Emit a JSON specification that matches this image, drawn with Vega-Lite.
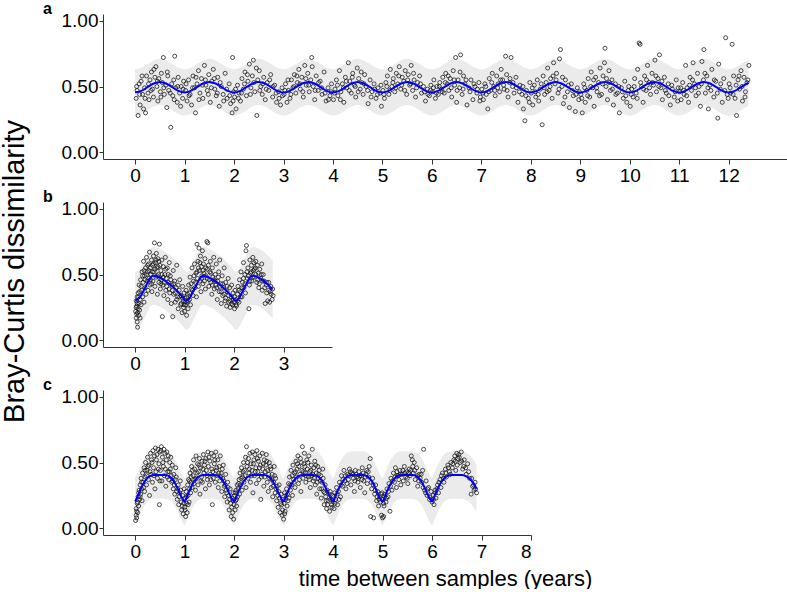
{
"$schema": "https://vega.github.io/schema/vega-lite/v6.json",
"background": "white",
"padding": 0,
"spacing": 43,
"bounds": "flush",
"config": {
 "view": {"stroke": null},
 "font": "Liberation Sans",
 "axis": {"grid": false, "domainColor": "#333333", "tickColor": "#333333", "labelColor": "#000000", "labelFontSize": 19, "labelFont": "Liberation Sans", "titleFont": "Liberation Sans", "titleColor": "#000000", "titleFontWeight": "normal", "domainWidth": 1, "tickWidth": 1},
 "axisX": {"tickSize": 5, "labelPadding": 2},
 "axisY": {"tickSize": 4, "labelPadding": 1}
},
"vconcat": [
 {
  "width": 685, "height": 145,
  "title": {"text": "a", "anchor": "start", "frame": "group", "dx": -60, "dy": 12, "fontSize": 16, "fontWeight": "bold", "baseline": "alphabetic", "offset": -6, "color": "#000000", "font": "Liberation Sans"},
  "layer": [
   {"data": {"name": "la"}, "mark": {"type": "area", "color": "#EBEBEB", "interpolate": "monotone"},
    "encoding": {
     "x": {"field": "x", "type": "quantitative", "scale": {"domain": [-0.65, 13.2], "nice": false, "zero": false}, "axis": {"values": [0,1,2,3,4,5,6,7,8,9,10,11,12], "title": null}},
     "y": {"field": "lo", "type": "quantitative", "scale": {"domain": [-0.05, 1.05], "nice": false, "zero": false}, "axis": {"values": [0,0.25,0.5,0.75,1], "format": ".2f", "title": "Bray-Curtis dissimilarity", "titleFontSize": 29, "titleAngle": 270, "titleAlign": "center", "titleBaseline": "alphabetic", "titleX": -80, "titleY": 257}},
     "y2": {"field": "hi"}}},
   {"data": {"name": "a"}, "mark": {"type": "point", "filled": false, "size": 16, "stroke": "#111111", "strokeWidth": 0.75, "opacity": 1},
    "encoding": {"x": {"field": "x", "type": "quantitative"}, "y": {"field": "y", "type": "quantitative"}}},
   {"data": {"name": "la"}, "mark": {"type": "line", "color": "#0000FF", "strokeWidth": 2, "interpolate": "monotone"},
    "encoding": {"x": {"field": "x", "type": "quantitative"}, "y": {"field": "f", "type": "quantitative"}}}
  ]
 },
 {
  "width": 229, "height": 145,
  "title": {"text": "b", "anchor": "start", "frame": "group", "dx": -60, "dy": 12, "fontSize": 16, "fontWeight": "bold", "baseline": "alphabetic", "offset": -6, "color": "#000000", "font": "Liberation Sans"},
  "layer": [
   {"data": {"name": "lb"}, "mark": {"type": "area", "color": "#EBEBEB", "interpolate": "monotone"},
    "encoding": {
     "x": {"field": "x", "type": "quantitative", "scale": {"domain": [-0.65, 3.98], "nice": false, "zero": false}, "axis": {"values": [0,1,2,3], "title": null}},
     "y": {"field": "lo", "type": "quantitative", "scale": {"domain": [-0.05, 1.05], "nice": false, "zero": false}, "axis": {"values": [0,0.25,0.5,0.75,1], "format": ".2f", "title": null}},
     "y2": {"field": "hi"}}},
   {"data": {"name": "b"}, "mark": {"type": "point", "filled": false, "size": 16, "stroke": "#111111", "strokeWidth": 0.75, "opacity": 1},
    "encoding": {"x": {"field": "x", "type": "quantitative"}, "y": {"field": "y", "type": "quantitative"}}},
   {"data": {"name": "lb"}, "mark": {"type": "line", "color": "#0000FF", "strokeWidth": 2, "interpolate": "monotone"},
    "encoding": {"x": {"field": "x", "type": "quantitative"}, "y": {"field": "f", "type": "quantitative"}}}
  ]
 },
 {
  "width": 428, "height": 145,
  "title": {"text": "c", "anchor": "start", "frame": "group", "dx": -60, "dy": 12, "fontSize": 16, "fontWeight": "bold", "baseline": "alphabetic", "offset": -6, "color": "#000000", "font": "Liberation Sans"},
  "layer": [
   {"data": {"name": "lc"}, "mark": {"type": "area", "color": "#EBEBEB", "interpolate": "monotone"},
    "encoding": {
     "x": {"field": "x", "type": "quantitative", "scale": {"domain": [-0.65, 8.0], "nice": false, "zero": false}, "axis": {"values": [0,1,2,3,4,5,6,7,8], "title": "time between samples (years)", "titleFontSize": 22, "titleX": 342, "titlePadding": 7}},
     "y": {"field": "lo", "type": "quantitative", "scale": {"domain": [-0.05, 1.05], "nice": false, "zero": false}, "axis": {"values": [0,0.25,0.5,0.75,1], "format": ".2f", "title": null}},
     "y2": {"field": "hi"}}},
   {"data": {"name": "c"}, "mark": {"type": "point", "filled": false, "size": 16, "stroke": "#111111", "strokeWidth": 0.75, "opacity": 1},
    "encoding": {"x": {"field": "x", "type": "quantitative"}, "y": {"field": "y", "type": "quantitative"}}},
   {"data": {"name": "lc"}, "mark": {"type": "line", "color": "#0000FF", "strokeWidth": 2, "interpolate": "monotone"},
    "encoding": {"x": {"field": "x", "type": "quantitative"}, "y": {"field": "f", "type": "quantitative"}}}
  ]
 }
],
"datasets": {
 "la": [
  {"x":0,"f":0.455,"lo":0.28,"hi":0.63},{"x":0.125,"f":0.467,"lo":0.292,"hi":0.642},{"x":0.25,"f":0.495,"lo":0.32,"hi":0.67},{"x":0.375,"f":0.523,"lo":0.348,"hi":0.698},{"x":0.5,"f":0.535,"lo":0.36,"hi":0.71},{"x":0.625,"f":0.523,"lo":0.348,"hi":0.698},{"x":0.75,"f":0.495,"lo":0.32,"hi":0.67},{"x":0.875,"f":0.467,"lo":0.292,"hi":0.642},
  {"x":1,"f":0.455,"lo":0.28,"hi":0.63},{"x":1.125,"f":0.467,"lo":0.292,"hi":0.642},{"x":1.25,"f":0.495,"lo":0.32,"hi":0.67},{"x":1.375,"f":0.523,"lo":0.348,"hi":0.698},{"x":1.5,"f":0.535,"lo":0.36,"hi":0.71},{"x":1.625,"f":0.523,"lo":0.348,"hi":0.698},{"x":1.75,"f":0.495,"lo":0.32,"hi":0.67},{"x":1.875,"f":0.467,"lo":0.292,"hi":0.642},
  {"x":2,"f":0.455,"lo":0.28,"hi":0.63},{"x":2.125,"f":0.467,"lo":0.292,"hi":0.642},{"x":2.25,"f":0.495,"lo":0.32,"hi":0.67},{"x":2.375,"f":0.523,"lo":0.348,"hi":0.698},{"x":2.5,"f":0.535,"lo":0.36,"hi":0.71},{"x":2.625,"f":0.523,"lo":0.348,"hi":0.698},{"x":2.75,"f":0.495,"lo":0.32,"hi":0.67},{"x":2.875,"f":0.467,"lo":0.292,"hi":0.642},
  {"x":3,"f":0.455,"lo":0.28,"hi":0.63},{"x":3.125,"f":0.467,"lo":0.292,"hi":0.642},{"x":3.25,"f":0.495,"lo":0.32,"hi":0.67},{"x":3.375,"f":0.523,"lo":0.348,"hi":0.698},{"x":3.5,"f":0.535,"lo":0.36,"hi":0.71},{"x":3.625,"f":0.523,"lo":0.348,"hi":0.698},{"x":3.75,"f":0.495,"lo":0.32,"hi":0.67},{"x":3.875,"f":0.467,"lo":0.292,"hi":0.642},
  {"x":4,"f":0.455,"lo":0.28,"hi":0.63},{"x":4.125,"f":0.467,"lo":0.292,"hi":0.642},{"x":4.25,"f":0.495,"lo":0.32,"hi":0.67},{"x":4.375,"f":0.523,"lo":0.348,"hi":0.698},{"x":4.5,"f":0.535,"lo":0.36,"hi":0.71},{"x":4.625,"f":0.523,"lo":0.348,"hi":0.698},{"x":4.75,"f":0.495,"lo":0.32,"hi":0.67},{"x":4.875,"f":0.467,"lo":0.292,"hi":0.642},
  {"x":5,"f":0.455,"lo":0.28,"hi":0.63},{"x":5.125,"f":0.467,"lo":0.292,"hi":0.642},{"x":5.25,"f":0.495,"lo":0.32,"hi":0.67},{"x":5.375,"f":0.523,"lo":0.348,"hi":0.698},{"x":5.5,"f":0.535,"lo":0.36,"hi":0.71},{"x":5.625,"f":0.523,"lo":0.348,"hi":0.698},{"x":5.75,"f":0.495,"lo":0.32,"hi":0.67},{"x":5.875,"f":0.467,"lo":0.292,"hi":0.642},
  {"x":6,"f":0.455,"lo":0.28,"hi":0.63},{"x":6.125,"f":0.467,"lo":0.292,"hi":0.642},{"x":6.25,"f":0.495,"lo":0.32,"hi":0.67},{"x":6.375,"f":0.523,"lo":0.348,"hi":0.698},{"x":6.5,"f":0.535,"lo":0.36,"hi":0.71},{"x":6.625,"f":0.523,"lo":0.348,"hi":0.698},{"x":6.75,"f":0.495,"lo":0.32,"hi":0.67},{"x":6.875,"f":0.467,"lo":0.292,"hi":0.642},
  {"x":7,"f":0.455,"lo":0.28,"hi":0.63},{"x":7.125,"f":0.467,"lo":0.292,"hi":0.642},{"x":7.25,"f":0.495,"lo":0.32,"hi":0.67},{"x":7.375,"f":0.523,"lo":0.348,"hi":0.698},{"x":7.5,"f":0.535,"lo":0.36,"hi":0.71},{"x":7.625,"f":0.523,"lo":0.348,"hi":0.698},{"x":7.75,"f":0.495,"lo":0.32,"hi":0.67},{"x":7.875,"f":0.467,"lo":0.292,"hi":0.642},
  {"x":8,"f":0.455,"lo":0.28,"hi":0.63},{"x":8.125,"f":0.467,"lo":0.292,"hi":0.642},{"x":8.25,"f":0.495,"lo":0.32,"hi":0.67},{"x":8.375,"f":0.523,"lo":0.348,"hi":0.698},{"x":8.5,"f":0.535,"lo":0.36,"hi":0.71},{"x":8.625,"f":0.523,"lo":0.348,"hi":0.698},{"x":8.75,"f":0.495,"lo":0.32,"hi":0.67},{"x":8.875,"f":0.467,"lo":0.292,"hi":0.642},
  {"x":9,"f":0.455,"lo":0.28,"hi":0.63},{"x":9.125,"f":0.467,"lo":0.292,"hi":0.642},{"x":9.25,"f":0.495,"lo":0.32,"hi":0.67},{"x":9.375,"f":0.523,"lo":0.348,"hi":0.698},{"x":9.5,"f":0.535,"lo":0.36,"hi":0.71},{"x":9.625,"f":0.523,"lo":0.348,"hi":0.698},{"x":9.75,"f":0.495,"lo":0.32,"hi":0.67},{"x":9.875,"f":0.467,"lo":0.292,"hi":0.642},
  {"x":10,"f":0.455,"lo":0.28,"hi":0.63},{"x":10.125,"f":0.467,"lo":0.292,"hi":0.642},{"x":10.25,"f":0.495,"lo":0.32,"hi":0.67},{"x":10.375,"f":0.523,"lo":0.348,"hi":0.698},{"x":10.5,"f":0.535,"lo":0.36,"hi":0.71},{"x":10.625,"f":0.523,"lo":0.348,"hi":0.698},{"x":10.75,"f":0.495,"lo":0.32,"hi":0.67},{"x":10.875,"f":0.467,"lo":0.292,"hi":0.642},
  {"x":11,"f":0.455,"lo":0.28,"hi":0.63},{"x":11.125,"f":0.467,"lo":0.292,"hi":0.642},{"x":11.25,"f":0.495,"lo":0.32,"hi":0.67},{"x":11.375,"f":0.523,"lo":0.348,"hi":0.698},{"x":11.5,"f":0.535,"lo":0.36,"hi":0.71},{"x":11.625,"f":0.523,"lo":0.348,"hi":0.698},{"x":11.75,"f":0.495,"lo":0.32,"hi":0.67},{"x":11.875,"f":0.467,"lo":0.292,"hi":0.642},
  {"x":12,"f":0.455,"lo":0.28,"hi":0.63},{"x":12.125,"f":0.467,"lo":0.292,"hi":0.642},{"x":12.25,"f":0.495,"lo":0.32,"hi":0.67},{"x":12.375,"f":0.523,"lo":0.348,"hi":0.698},{"x":12.4,"f":0.527,"lo":0.352,"hi":0.702}
 ],
 "lb": [
  {"x":0,"f":0.30,"lo":0.08,"hi":0.52},{"x":0.1,"f":0.33,"lo":0.11,"hi":0.55},{"x":0.19,"f":0.39,"lo":0.17,"hi":0.61},{"x":0.28,"f":0.46,"lo":0.24,"hi":0.68},{"x":0.36,"f":0.49,"lo":0.27,"hi":0.71},{"x":0.45,"f":0.485,"lo":0.265,"hi":0.705},{"x":0.55,"f":0.465,"lo":0.245,"hi":0.685},{"x":0.65,"f":0.44,"lo":0.22,"hi":0.66},{"x":0.75,"f":0.41,"lo":0.19,"hi":0.63},{"x":0.85,"f":0.375,"lo":0.155,"hi":0.595},{"x":0.95,"f":0.335,"lo":0.115,"hi":0.555},
  {"x":1.03,"f":0.30,"lo":0.08,"hi":0.52},{"x":1.1,"f":0.32,"lo":0.10,"hi":0.54},{"x":1.17,"f":0.37,"lo":0.15,"hi":0.59},{"x":1.25,"f":0.43,"lo":0.21,"hi":0.65},{"x":1.3,"f":0.465,"lo":0.245,"hi":0.685},{"x":1.37,"f":0.49,"lo":0.27,"hi":0.71},{"x":1.45,"f":0.485,"lo":0.265,"hi":0.705},{"x":1.55,"f":0.465,"lo":0.245,"hi":0.685},{"x":1.65,"f":0.44,"lo":0.22,"hi":0.66},{"x":1.75,"f":0.41,"lo":0.19,"hi":0.63},{"x":1.85,"f":0.375,"lo":0.155,"hi":0.595},{"x":1.95,"f":0.335,"lo":0.115,"hi":0.555},
  {"x":2.03,"f":0.30,"lo":0.08,"hi":0.52},{"x":2.1,"f":0.32,"lo":0.10,"hi":0.54},{"x":2.17,"f":0.37,"lo":0.15,"hi":0.59},{"x":2.25,"f":0.43,"lo":0.21,"hi":0.65},{"x":2.3,"f":0.465,"lo":0.245,"hi":0.685},{"x":2.37,"f":0.49,"lo":0.27,"hi":0.71},{"x":2.45,"f":0.485,"lo":0.265,"hi":0.705},{"x":2.55,"f":0.465,"lo":0.245,"hi":0.685},{"x":2.65,"f":0.435,"lo":0.215,"hi":0.655},{"x":2.78,"f":0.385,"lo":0.165,"hi":0.605}
 ],
 "lc": [
  {"x":0,"f":0.205,"lo":0.025,"hi":0.385},{"x":0.05,"f":0.245,"lo":0.065,"hi":0.425},{"x":0.1,"f":0.29,"lo":0.11,"hi":0.47},{"x":0.2,"f":0.36,"lo":0.18,"hi":0.54},{"x":0.3,"f":0.397,"lo":0.217,"hi":0.577},{"x":0.4,"f":0.405,"lo":0.225,"hi":0.585},{"x":0.5,"f":0.405,"lo":0.225,"hi":0.585},{"x":0.6,"f":0.405,"lo":0.225,"hi":0.585},{"x":0.7,"f":0.393,"lo":0.213,"hi":0.573},{"x":0.8,"f":0.347,"lo":0.167,"hi":0.527},{"x":0.9,"f":0.268,"lo":0.088,"hi":0.448},{"x":0.95,"f":0.228,"lo":0.048,"hi":0.408},
  {"x":1,"f":0.205,"lo":0.025,"hi":0.385},{"x":1.05,"f":0.245,"lo":0.065,"hi":0.425},{"x":1.1,"f":0.29,"lo":0.11,"hi":0.47},{"x":1.2,"f":0.36,"lo":0.18,"hi":0.54},{"x":1.3,"f":0.397,"lo":0.217,"hi":0.577},{"x":1.4,"f":0.405,"lo":0.225,"hi":0.585},{"x":1.5,"f":0.405,"lo":0.225,"hi":0.585},{"x":1.6,"f":0.405,"lo":0.225,"hi":0.585},{"x":1.7,"f":0.393,"lo":0.213,"hi":0.573},{"x":1.8,"f":0.347,"lo":0.167,"hi":0.527},{"x":1.9,"f":0.268,"lo":0.088,"hi":0.448},{"x":1.95,"f":0.228,"lo":0.048,"hi":0.408},
  {"x":2,"f":0.205,"lo":0.025,"hi":0.385},{"x":2.05,"f":0.245,"lo":0.065,"hi":0.425},{"x":2.1,"f":0.29,"lo":0.11,"hi":0.47},{"x":2.2,"f":0.36,"lo":0.18,"hi":0.54},{"x":2.3,"f":0.397,"lo":0.217,"hi":0.577},{"x":2.4,"f":0.405,"lo":0.225,"hi":0.585},{"x":2.5,"f":0.405,"lo":0.225,"hi":0.585},{"x":2.6,"f":0.405,"lo":0.225,"hi":0.585},{"x":2.7,"f":0.393,"lo":0.213,"hi":0.573},{"x":2.8,"f":0.347,"lo":0.167,"hi":0.527},{"x":2.9,"f":0.268,"lo":0.088,"hi":0.448},{"x":2.95,"f":0.228,"lo":0.048,"hi":0.408},
  {"x":3,"f":0.205,"lo":0.025,"hi":0.385},{"x":3.05,"f":0.245,"lo":0.065,"hi":0.425},{"x":3.1,"f":0.29,"lo":0.11,"hi":0.47},{"x":3.2,"f":0.36,"lo":0.18,"hi":0.54},{"x":3.3,"f":0.397,"lo":0.217,"hi":0.577},{"x":3.4,"f":0.405,"lo":0.225,"hi":0.585},{"x":3.5,"f":0.405,"lo":0.225,"hi":0.585},{"x":3.6,"f":0.405,"lo":0.225,"hi":0.585},{"x":3.7,"f":0.393,"lo":0.213,"hi":0.573},{"x":3.8,"f":0.347,"lo":0.167,"hi":0.527},{"x":3.9,"f":0.268,"lo":0.088,"hi":0.448},{"x":3.95,"f":0.228,"lo":0.048,"hi":0.408},
  {"x":4,"f":0.205,"lo":0.025,"hi":0.385},{"x":4.05,"f":0.245,"lo":0.065,"hi":0.425},{"x":4.1,"f":0.29,"lo":0.11,"hi":0.47},{"x":4.2,"f":0.36,"lo":0.18,"hi":0.54},{"x":4.3,"f":0.397,"lo":0.217,"hi":0.577},{"x":4.4,"f":0.405,"lo":0.225,"hi":0.585},{"x":4.5,"f":0.405,"lo":0.225,"hi":0.585},{"x":4.6,"f":0.405,"lo":0.225,"hi":0.585},{"x":4.7,"f":0.393,"lo":0.213,"hi":0.573},{"x":4.8,"f":0.347,"lo":0.167,"hi":0.527},{"x":4.9,"f":0.268,"lo":0.088,"hi":0.448},{"x":4.95,"f":0.228,"lo":0.048,"hi":0.408},
  {"x":5,"f":0.205,"lo":0.025,"hi":0.385},{"x":5.05,"f":0.245,"lo":0.065,"hi":0.425},{"x":5.1,"f":0.29,"lo":0.11,"hi":0.47},{"x":5.2,"f":0.36,"lo":0.18,"hi":0.54},{"x":5.3,"f":0.397,"lo":0.217,"hi":0.577},{"x":5.4,"f":0.405,"lo":0.225,"hi":0.585},{"x":5.5,"f":0.405,"lo":0.225,"hi":0.585},{"x":5.6,"f":0.405,"lo":0.225,"hi":0.585},{"x":5.7,"f":0.393,"lo":0.213,"hi":0.573},{"x":5.8,"f":0.347,"lo":0.167,"hi":0.527},{"x":5.9,"f":0.268,"lo":0.088,"hi":0.448},{"x":5.95,"f":0.228,"lo":0.048,"hi":0.408},
  {"x":6,"f":0.205,"lo":0.025,"hi":0.385},{"x":6.05,"f":0.245,"lo":0.065,"hi":0.425},{"x":6.1,"f":0.29,"lo":0.11,"hi":0.47},{"x":6.2,"f":0.36,"lo":0.18,"hi":0.54},{"x":6.3,"f":0.397,"lo":0.217,"hi":0.577},{"x":6.4,"f":0.405,"lo":0.225,"hi":0.585},{"x":6.5,"f":0.405,"lo":0.225,"hi":0.585},{"x":6.6,"f":0.405,"lo":0.225,"hi":0.585},{"x":6.7,"f":0.393,"lo":0.213,"hi":0.573},{"x":6.8,"f":0.36,"lo":0.18,"hi":0.54},{"x":6.9,"f":0.30,"lo":0.12,"hi":0.48}
 ],
 "a": [
  {"x":0.02,"y":0.41},{"x":0.04,"y":0.47},{"x":0.06,"y":0.28},{"x":0.08,"y":0.52},{"x":0.10,"y":0.36},{"x":0.12,"y":0.54},{"x":0.15,"y":0.44},{"x":0.17,"y":0.33},{"x":0.19,"y":0.49},{"x":0.21,"y":0.30},{"x":0.23,"y":0.58},{"x":0.26,"y":0.45},{"x":0.28,"y":0.40},{"x":0.30,"y":0.55},{"x":0.33,"y":0.61},{"x":0.35,"y":0.48},{"x":0.37,"y":0.42},{"x":0.40,"y":0.57},{"x":0.42,"y":0.65},{"x":0.44,"y":0.50},{"x":0.46,"y":0.39},{"x":0.48,"y":0.56},{"x":0.51,"y":0.46},{"x":0.53,"y":0.60},{"x":0.55,"y":0.53},{"x":0.57,"y":0.72},{"x":0.59,"y":0.44},{"x":0.62,"y":0.51},{"x":0.64,"y":0.34},{"x":0.66,"y":0.58},{"x":0.68,"y":0.47},{"x":0.72,"y":0.19},{"x":0.74,"y":0.52},{"x":0.76,"y":0.43},{"x":0.78,"y":0.55},{"x":0.80,"y":0.73},{"x":0.82,"y":0.49},{"x":0.85,"y":0.38},{"x":0.87,"y":0.57},{"x":0.90,"y":0.45},{"x":0.93,"y":0.50},{"x":0.96,"y":0.41},{"x":0.98,"y":0.54},
  {"x":1.02,"y":0.47},{"x":1.05,"y":0.39},{"x":1.08,"y":0.55},{"x":1.11,"y":0.44},{"x":1.14,"y":0.36},{"x":1.17,"y":0.58},{"x":1.20,"y":0.49},{"x":1.22,"y":0.30},{"x":1.25,"y":0.52},{"x":1.28,"y":0.62},{"x":1.31,"y":0.45},{"x":1.34,"y":0.56},{"x":1.37,"y":0.41},{"x":1.40,"y":0.66},{"x":1.43,"y":0.51},{"x":1.46,"y":0.47},{"x":1.49,"y":0.59},{"x":1.52,"y":0.38},{"x":1.55,"y":0.54},{"x":1.58,"y":0.63},{"x":1.61,"y":0.48},{"x":1.64,"y":0.43},{"x":1.67,"y":0.57},{"x":1.70,"y":0.35},{"x":1.74,"y":0.50},{"x":1.78,"y":0.44},{"x":1.82,"y":0.60},{"x":1.86,"y":0.41},{"x":1.90,"y":0.52},{"x":1.93,"y":0.37},{"x":1.96,"y":0.30},{"x":1.97,"y":0.72},{"x":1.99,"y":0.46},
  {"x":2.01,"y":0.42},{"x":2.04,"y":0.33},{"x":2.07,"y":0.51},{"x":2.10,"y":0.45},{"x":2.13,"y":0.39},{"x":2.16,"y":0.56},{"x":2.19,"y":0.48},{"x":2.22,"y":0.61},{"x":2.25,"y":0.43},{"x":2.28,"y":0.54},{"x":2.31,"y":0.67},{"x":2.34,"y":0.49},{"x":2.37,"y":0.58},{"x":2.39,"y":0.70},{"x":2.42,"y":0.46},{"x":2.46,"y":0.28},{"x":2.48,"y":0.55},{"x":2.51,"y":0.62},{"x":2.54,"y":0.50},{"x":2.57,"y":0.44},{"x":2.60,"y":0.57},{"x":2.63,"y":0.40},{"x":2.67,"y":0.53},{"x":2.70,"y":0.47},{"x":2.74,"y":0.59},{"x":2.78,"y":0.42},{"x":2.82,"y":0.51},{"x":2.86,"y":0.38},{"x":2.90,"y":0.46},{"x":2.94,"y":0.36},{"x":2.97,"y":0.49},
  {"x":3.01,"y":0.44},{"x":3.04,"y":0.52},{"x":3.07,"y":0.38},{"x":3.10,"y":0.47},{"x":3.13,"y":0.41},{"x":3.16,"y":0.55},{"x":3.19,"y":0.49},{"x":3.22,"y":0.59},{"x":3.25,"y":0.45},{"x":3.28,"y":0.53},{"x":3.31,"y":0.63},{"x":3.34,"y":0.48},{"x":3.37,"y":0.57},{"x":3.40,"y":0.42},{"x":3.43,"y":0.66},{"x":3.46,"y":0.51},{"x":3.49,"y":0.60},{"x":3.52,"y":0.46},{"x":3.55,"y":0.55},{"x":3.57,"y":0.72},{"x":3.60,"y":0.50},{"x":3.63,"y":0.40},{"x":3.66,"y":0.58},{"x":3.70,"y":0.47},{"x":3.74,"y":0.54},{"x":3.78,"y":0.44},{"x":3.82,"y":0.61},{"x":3.86,"y":0.39},{"x":3.90,"y":0.49},{"x":3.94,"y":0.43},{"x":3.97,"y":0.52},
  {"x":4.01,"y":0.40},{"x":4.04,"y":0.48},{"x":4.07,"y":0.55},{"x":4.10,"y":0.43},{"x":4.13,"y":0.62},{"x":4.16,"y":0.46},{"x":4.19,"y":0.52},{"x":4.22,"y":0.38},{"x":4.25,"y":0.57},{"x":4.28,"y":0.49},{"x":4.31,"y":0.68},{"x":4.34,"y":0.54},{"x":4.37,"y":0.45},{"x":4.40,"y":0.60},{"x":4.43,"y":0.51},{"x":4.46,"y":0.42},{"x":4.49,"y":0.64},{"x":4.52,"y":0.56},{"x":4.55,"y":0.48},{"x":4.58,"y":0.53},{"x":4.61,"y":0.44},{"x":4.64,"y":0.59},{"x":4.67,"y":0.50},{"x":4.71,"y":0.37},{"x":4.75,"y":0.55},{"x":4.79,"y":0.46},{"x":4.83,"y":0.52},{"x":4.87,"y":0.41},{"x":4.91,"y":0.49},{"x":4.95,"y":0.45},{"x":4.98,"y":0.35},
  {"x":5.01,"y":0.47},{"x":5.04,"y":0.41},{"x":5.07,"y":0.53},{"x":5.10,"y":0.58},{"x":5.13,"y":0.44},{"x":5.16,"y":0.63},{"x":5.19,"y":0.50},{"x":5.22,"y":0.56},{"x":5.25,"y":0.46},{"x":5.28,"y":0.60},{"x":5.31,"y":0.52},{"x":5.34,"y":0.65},{"x":5.37,"y":0.48},{"x":5.40,"y":0.57},{"x":5.43,"y":0.54},{"x":5.46,"y":0.62},{"x":5.49,"y":0.44},{"x":5.52,"y":0.59},{"x":5.55,"y":0.51},{"x":5.58,"y":0.66},{"x":5.61,"y":0.47},{"x":5.64,"y":0.55},{"x":5.67,"y":0.42},{"x":5.71,"y":0.53},{"x":5.75,"y":0.58},{"x":5.79,"y":0.45},{"x":5.83,"y":0.50},{"x":5.87,"y":0.39},{"x":5.91,"y":0.48},{"x":5.95,"y":0.43},{"x":5.98,"y":0.51},
  {"x":6.01,"y":0.46},{"x":6.04,"y":0.55},{"x":6.07,"y":0.41},{"x":6.10,"y":0.50},{"x":6.13,"y":0.44},{"x":6.16,"y":0.53},{"x":6.19,"y":0.48},{"x":6.22,"y":0.57},{"x":6.25,"y":0.45},{"x":6.28,"y":0.60},{"x":6.31,"y":0.52},{"x":6.34,"y":0.47},{"x":6.37,"y":0.56},{"x":6.40,"y":0.42},{"x":6.43,"y":0.62},{"x":6.46,"y":0.51},{"x":6.48,"y":0.72},{"x":6.50,"y":0.38},{"x":6.53,"y":0.55},{"x":6.56,"y":0.49},{"x":6.58,"y":0.74},{"x":6.61,"y":0.44},{"x":6.64,"y":0.58},{"x":6.67,"y":0.52},{"x":6.71,"y":0.36},{"x":6.75,"y":0.49},{"x":6.79,"y":0.55},{"x":6.83,"y":0.40},{"x":6.87,"y":0.50},{"x":6.91,"y":0.45},{"x":6.95,"y":0.53},{"x":6.98,"y":0.42},
  {"x":7.01,"y":0.48},{"x":7.04,"y":0.40},{"x":7.07,"y":0.52},{"x":7.10,"y":0.44},{"x":7.13,"y":0.33},{"x":7.16,"y":0.56},{"x":7.19,"y":0.47},{"x":7.22,"y":0.60},{"x":7.25,"y":0.50},{"x":7.28,"y":0.43},{"x":7.31,"y":0.58},{"x":7.34,"y":0.52},{"x":7.37,"y":0.46},{"x":7.40,"y":0.63},{"x":7.43,"y":0.55},{"x":7.46,"y":0.48},{"x":7.49,"y":0.73},{"x":7.51,"y":0.59},{"x":7.54,"y":0.42},{"x":7.57,"y":0.53},{"x":7.60,"y":0.72},{"x":7.63,"y":0.50},{"x":7.66,"y":0.45},{"x":7.70,"y":0.57},{"x":7.74,"y":0.38},{"x":7.78,"y":0.51},{"x":7.82,"y":0.44},{"x":7.85,"y":0.33},{"x":7.88,"y":0.24},{"x":7.91,"y":0.47},{"x":7.95,"y":0.41},{"x":7.98,"y":0.53},
  {"x":8.01,"y":0.45},{"x":8.04,"y":0.36},{"x":8.07,"y":0.51},{"x":8.10,"y":0.42},{"x":8.13,"y":0.55},{"x":8.16,"y":0.39},{"x":8.19,"y":0.48},{"x":8.23,"y":0.21},{"x":8.25,"y":0.58},{"x":8.28,"y":0.44},{"x":8.31,"y":0.53},{"x":8.34,"y":0.64},{"x":8.37,"y":0.47},{"x":8.40,"y":0.56},{"x":8.43,"y":0.41},{"x":8.46,"y":0.68},{"x":8.49,"y":0.52},{"x":8.52,"y":0.60},{"x":8.55,"y":0.45},{"x":8.58,"y":0.71},{"x":8.60,"y":0.78},{"x":8.63,"y":0.50},{"x":8.66,"y":0.37},{"x":8.70,"y":0.55},{"x":8.74,"y":0.46},{"x":8.78,"y":0.34},{"x":8.82,"y":0.52},{"x":8.86,"y":0.43},{"x":8.90,"y":0.31},{"x":8.94,"y":0.49},{"x":8.97,"y":0.40},
  {"x":9.01,"y":0.44},{"x":9.04,"y":0.30},{"x":9.07,"y":0.52},{"x":9.10,"y":0.38},{"x":9.13,"y":0.47},{"x":9.16,"y":0.56},{"x":9.19,"y":0.42},{"x":9.22,"y":0.61},{"x":9.25,"y":0.49},{"x":9.28,"y":0.35},{"x":9.31,"y":0.57},{"x":9.34,"y":0.46},{"x":9.37,"y":0.53},{"x":9.40,"y":0.64},{"x":9.43,"y":0.44},{"x":9.46,"y":0.58},{"x":9.49,"y":0.68},{"x":9.50,"y":0.79},{"x":9.52,"y":0.50},{"x":9.55,"y":0.40},{"x":9.58,"y":0.62},{"x":9.61,"y":0.47},{"x":9.64,"y":0.55},{"x":9.67,"y":0.36},{"x":9.71,"y":0.52},{"x":9.75,"y":0.45},{"x":9.79,"y":0.30},{"x":9.83,"y":0.49},{"x":9.87,"y":0.41},{"x":9.90,"y":0.54},{"x":9.94,"y":0.38},{"x":9.97,"y":0.47},
  {"x":10.01,"y":0.35},{"x":10.04,"y":0.48},{"x":10.07,"y":0.42},{"x":10.10,"y":0.56},{"x":10.13,"y":0.45},{"x":10.16,"y":0.63},{"x":10.19,"y":0.83},{"x":10.21,"y":0.82},{"x":10.24,"y":0.50},{"x":10.27,"y":0.38},{"x":10.30,"y":0.58},{"x":10.33,"y":0.47},{"x":10.36,"y":0.66},{"x":10.39,"y":0.53},{"x":10.42,"y":0.44},{"x":10.45,"y":0.60},{"x":10.48,"y":0.51},{"x":10.51,"y":0.70},{"x":10.54,"y":0.46},{"x":10.57,"y":0.56},{"x":10.60,"y":0.74},{"x":10.63,"y":0.49},{"x":10.66,"y":0.40},{"x":10.70,"y":0.57},{"x":10.74,"y":0.45},{"x":10.78,"y":0.52},{"x":10.82,"y":0.36},{"x":10.86,"y":0.48},{"x":10.90,"y":0.42},{"x":10.94,"y":0.55},{"x":10.97,"y":0.39},
  {"x":11.01,"y":0.46},{"x":11.04,"y":0.40},{"x":11.07,"y":0.53},{"x":11.10,"y":0.44},{"x":11.13,"y":0.66},{"x":11.16,"y":0.49},{"x":11.19,"y":0.38},{"x":11.22,"y":0.57},{"x":11.25,"y":0.47},{"x":11.28,"y":0.68},{"x":11.31,"y":0.52},{"x":11.34,"y":0.43},{"x":11.37,"y":0.60},{"x":11.40,"y":0.50},{"x":11.43,"y":0.35},{"x":11.46,"y":0.69},{"x":11.49,"y":0.55},{"x":11.50,"y":0.78},{"x":11.53,"y":0.45},{"x":11.56,"y":0.58},{"x":11.59,"y":0.33},{"x":11.62,"y":0.51},{"x":11.66,"y":0.63},{"x":11.70,"y":0.42},{"x":11.74,"y":0.54},{"x":11.78,"y":0.26},{"x":11.80,"y":0.67},{"x":11.83,"y":0.48},{"x":11.87,"y":0.38},{"x":11.90,"y":0.56},{"x":11.94,"y":0.87},{"x":11.97,"y":0.44},
  {"x":12.01,"y":0.52},{"x":12.04,"y":0.45},{"x":12.07,"y":0.82},{"x":12.10,"y":0.58},{"x":12.13,"y":0.41},{"x":12.16,"y":0.28},{"x":12.19,"y":0.55},{"x":12.22,"y":0.48},{"x":12.25,"y":0.62},{"x":12.28,"y":0.39},{"x":12.31,"y":0.57},{"x":12.34,"y":0.46},{"x":12.37,"y":0.53},{"x":12.41,"y":0.66},
  {"x":0.03,"y":0.50},{"x":0.09,"y":0.44},{"x":0.14,"y":0.58},{"x":0.20,"y":0.41},{"x":0.27,"y":0.52},{"x":0.32,"y":0.47},{"x":0.38,"y":0.63},{"x":0.45,"y":0.54},{"x":0.52,"y":0.42},{"x":0.58,"y":0.49},{"x":0.65,"y":0.61},{"x":0.71,"y":0.45},{"x":0.79,"y":0.40},{"x":0.86,"y":0.50},{"x":0.92,"y":0.35},{"x":0.97,"y":0.48},
  {"x":1.03,"y":0.52},{"x":1.09,"y":0.43},{"x":1.16,"y":0.49},{"x":1.23,"y":0.57},{"x":1.29,"y":0.40},{"x":1.36,"y":0.51},{"x":1.42,"y":0.55},{"x":1.48,"y":0.44},{"x":1.54,"y":0.49},{"x":1.60,"y":0.56},{"x":1.66,"y":0.45},{"x":1.72,"y":0.53},{"x":1.79,"y":0.39},{"x":1.85,"y":0.48},{"x":1.91,"y":0.43},{"x":1.98,"y":0.39},
  {"x":2.03,"y":0.48},{"x":2.09,"y":0.41},{"x":2.15,"y":0.45},{"x":2.21,"y":0.52},{"x":2.27,"y":0.59},{"x":2.33,"y":0.44},{"x":2.40,"y":0.53},{"x":2.45,"y":0.64},{"x":2.52,"y":0.47},{"x":2.58,"y":0.52},{"x":2.65,"y":0.48},{"x":2.72,"y":0.55},{"x":2.79,"y":0.50},{"x":2.85,"y":0.45},{"x":2.91,"y":0.41},{"x":2.98,"y":0.43},
  {"x":3.03,"y":0.47},{"x":3.09,"y":0.55},{"x":3.15,"y":0.44},{"x":3.21,"y":0.50},{"x":3.27,"y":0.58},{"x":3.33,"y":0.52},{"x":3.39,"y":0.46},{"x":3.45,"y":0.56},{"x":3.51,"y":0.51},{"x":3.58,"y":0.65},{"x":3.64,"y":0.47},{"x":3.71,"y":0.53},{"x":3.77,"y":0.49},{"x":3.84,"y":0.45},{"x":3.91,"y":0.40},{"x":3.96,"y":0.46},
  {"x":4.03,"y":0.45},{"x":4.09,"y":0.51},{"x":4.15,"y":0.40},{"x":4.21,"y":0.49},{"x":4.27,"y":0.54},{"x":4.33,"y":0.47},{"x":4.39,"y":0.57},{"x":4.45,"y":0.50},{"x":4.51,"y":0.46},{"x":4.57,"y":0.61},{"x":4.63,"y":0.52},{"x":4.70,"y":0.47},{"x":4.77,"y":0.42},{"x":4.84,"y":0.48},{"x":4.90,"y":0.44},{"x":4.97,"y":0.51},
  {"x":5.03,"y":0.44},{"x":5.09,"y":0.50},{"x":5.15,"y":0.47},{"x":5.21,"y":0.53},{"x":5.27,"y":0.49},{"x":5.33,"y":0.58},{"x":5.39,"y":0.51},{"x":5.45,"y":0.47},{"x":5.51,"y":0.55},{"x":5.57,"y":0.52},{"x":5.63,"y":0.60},{"x":5.69,"y":0.49},{"x":5.77,"y":0.52},{"x":5.85,"y":0.46},{"x":5.92,"y":0.44},{"x":5.97,"y":0.47},
  {"x":6.03,"y":0.49},{"x":6.09,"y":0.45},{"x":6.15,"y":0.50},{"x":6.21,"y":0.46},{"x":6.27,"y":0.53},{"x":6.33,"y":0.58},{"x":6.39,"y":0.49},{"x":6.45,"y":0.55},{"x":6.51,"y":0.47},{"x":6.57,"y":0.61},{"x":6.63,"y":0.48},{"x":6.69,"y":0.55},{"x":6.77,"y":0.46},{"x":6.85,"y":0.52},{"x":6.92,"y":0.48},{"x":6.97,"y":0.39},
  {"x":7.03,"y":0.45},{"x":7.09,"y":0.50},{"x":7.15,"y":0.46},{"x":7.21,"y":0.53},{"x":7.27,"y":0.47},{"x":7.33,"y":0.49},{"x":7.39,"y":0.55},{"x":7.45,"y":0.51},{"x":7.52,"y":0.47},{"x":7.58,"y":0.56},{"x":7.64,"y":0.53},{"x":7.71,"y":0.49},{"x":7.77,"y":0.46},{"x":7.84,"y":0.50},{"x":7.90,"y":0.43},{"x":7.97,"y":0.38},
  {"x":8.03,"y":0.49},{"x":8.09,"y":0.46},{"x":8.15,"y":0.44},{"x":8.21,"y":0.52},{"x":8.27,"y":0.49},{"x":8.33,"y":0.46},{"x":8.39,"y":0.50},{"x":8.45,"y":0.58},{"x":8.51,"y":0.55},{"x":8.57,"y":0.48},{"x":8.64,"y":0.57},{"x":8.69,"y":0.42},{"x":8.76,"y":0.51},{"x":8.84,"y":0.47},{"x":8.91,"y":0.44},{"x":8.98,"y":0.46},
  {"x":9.03,"y":0.41},{"x":9.09,"y":0.49},{"x":9.15,"y":0.43},{"x":9.21,"y":0.50},{"x":9.27,"y":0.55},{"x":9.33,"y":0.49},{"x":9.39,"y":0.43},{"x":9.45,"y":0.52},{"x":9.53,"y":0.56},{"x":9.59,"y":0.53},{"x":9.65,"y":0.48},{"x":9.72,"y":0.44},{"x":9.78,"y":0.50},{"x":9.85,"y":0.46},{"x":9.92,"y":0.43},{"x":9.98,"y":0.50},
  {"x":10.03,"y":0.44},{"x":10.09,"y":0.50},{"x":10.15,"y":0.41},{"x":10.22,"y":0.53},{"x":10.28,"y":0.48},{"x":10.34,"y":0.55},{"x":10.40,"y":0.49},{"x":10.46,"y":0.53},{"x":10.53,"y":0.58},{"x":10.59,"y":0.50},{"x":10.65,"y":0.54},{"x":10.72,"y":0.47},{"x":10.79,"y":0.43},{"x":10.85,"y":0.51},{"x":10.92,"y":0.46},{"x":10.98,"y":0.49},
  {"x":11.03,"y":0.49},{"x":11.09,"y":0.47},{"x":11.15,"y":0.43},{"x":11.21,"y":0.51},{"x":11.27,"y":0.55},{"x":11.33,"y":0.49},{"x":11.39,"y":0.45},{"x":11.45,"y":0.52},{"x":11.52,"y":0.60},{"x":11.58,"y":0.49},{"x":11.64,"y":0.47},{"x":11.71,"y":0.55},{"x":11.77,"y":0.45},{"x":11.84,"y":0.52},{"x":11.92,"y":0.47},{"x":11.99,"y":0.41},
  {"x":12.03,"y":0.49},{"x":12.09,"y":0.44},{"x":12.15,"y":0.51},{"x":12.21,"y":0.58},{"x":12.27,"y":0.50},{"x":12.33,"y":0.42},{"x":12.39,"y":0.55}
 ],
 "b": [
  {"x":0.01,"y":0.22},{"x":0.02,"y":0.17},{"x":0.02,"y":0.30},{"x":0.03,"y":0.20},{"x":0.03,"y":0.26},{"x":0.04,"y":0.14},{"x":0.04,"y":0.33},{"x":0.05,"y":0.21},{"x":0.05,"y":0.10},{"x":0.06,"y":0.24},{"x":0.06,"y":0.36},{"x":0.07,"y":0.19},{"x":0.08,"y":0.28},{"x":0.08,"y":0.42},{"x":0.09,"y":0.23},{"x":0.10,"y":0.31},{"x":0.10,"y":0.17},
  {"x":0.11,"y":0.46},{"x":0.12,"y":0.27},{"x":0.13,"y":0.38},{"x":0.14,"y":0.52},{"x":0.15,"y":0.33},{"x":0.16,"y":0.44},{"x":0.17,"y":0.60},{"x":0.18,"y":0.29},{"x":0.19,"y":0.49},{"x":0.20,"y":0.40},{"x":0.21,"y":0.55},{"x":0.22,"y":0.35},{"x":0.23,"y":0.63},{"x":0.24,"y":0.45},{"x":0.25,"y":0.52},{"x":0.26,"y":0.38},{"x":0.27,"y":0.58},{"x":0.28,"y":0.47},{"x":0.29,"y":0.67},{"x":0.30,"y":0.42},
  {"x":0.31,"y":0.55},{"x":0.32,"y":0.50},{"x":0.33,"y":0.61},{"x":0.34,"y":0.37},{"x":0.35,"y":0.57},{"x":0.36,"y":0.45},{"x":0.37,"y":0.64},{"x":0.38,"y":0.52},{"x":0.39,"y":0.74},{"x":0.40,"y":0.41},{"x":0.41,"y":0.59},{"x":0.42,"y":0.48},{"x":0.43,"y":0.66},{"x":0.44,"y":0.55},{"x":0.45,"y":0.35},{"x":0.46,"y":0.62},{"x":0.47,"y":0.50},{"x":0.48,"y":0.44},{"x":0.49,"y":0.73},{"x":0.50,"y":0.57},
  {"x":0.51,"y":0.39},{"x":0.52,"y":0.53},{"x":0.53,"y":0.46},{"x":0.54,"y":0.61},{"x":0.55,"y":0.18},{"x":0.56,"y":0.42},{"x":0.57,"y":0.56},{"x":0.58,"y":0.34},{"x":0.60,"y":0.50},{"x":0.61,"y":0.63},{"x":0.62,"y":0.38},{"x":0.63,"y":0.47},{"x":0.65,"y":0.55},{"x":0.66,"y":0.31},{"x":0.67,"y":0.44},{"x":0.69,"y":0.59},{"x":0.70,"y":0.36},{"x":0.71,"y":0.49},{"x":0.73,"y":0.28},{"x":0.74,"y":0.42},
  {"x":0.76,"y":0.18},{"x":0.77,"y":0.53},{"x":0.78,"y":0.35},{"x":0.80,"y":0.45},{"x":0.81,"y":0.29},{"x":0.83,"y":0.40},{"x":0.84,"y":0.57},{"x":0.86,"y":0.33},{"x":0.87,"y":0.24},{"x":0.89,"y":0.38},{"x":0.90,"y":0.46},{"x":0.92,"y":0.27},{"x":0.93,"y":0.34},{"x":0.95,"y":0.21},{"x":0.96,"y":0.41},{"x":0.97,"y":0.30},{"x":0.98,"y":0.25},{"x":0.99,"y":0.36},
  {"x":1.00,"y":0.22},{"x":1.01,"y":0.32},{"x":1.02,"y":0.27},{"x":1.03,"y":0.38},{"x":1.04,"y":0.19},{"x":1.05,"y":0.29},{"x":1.06,"y":0.35},{"x":1.07,"y":0.24},{"x":1.08,"y":0.42},{"x":1.10,"y":0.31},{"x":1.11,"y":0.48},{"x":1.12,"y":0.27},{"x":1.14,"y":0.39},{"x":1.15,"y":0.55},{"x":1.17,"y":0.34},{"x":1.18,"y":0.45},{"x":1.20,"y":0.58},{"x":1.21,"y":0.40},{"x":1.23,"y":0.51},{"x":1.24,"y":0.33},
  {"x":1.25,"y":0.73},{"x":1.26,"y":0.47},{"x":1.27,"y":0.60},{"x":1.28,"y":0.41},{"x":1.29,"y":0.70},{"x":1.30,"y":0.53},{"x":1.31,"y":0.45},{"x":1.32,"y":0.64},{"x":1.33,"y":0.37},{"x":1.34,"y":0.56},{"x":1.35,"y":0.49},{"x":1.36,"y":0.68},{"x":1.37,"y":0.43},{"x":1.38,"y":0.58},{"x":1.39,"y":0.51},{"x":1.41,"y":0.62},{"x":1.42,"y":0.39},{"x":1.43,"y":0.55},{"x":1.45,"y":0.75},{"x":1.46,"y":0.47},{"x":1.47,"y":0.74},{"x":1.48,"y":0.57},{"x":1.49,"y":0.41},
  {"x":1.51,"y":0.52},{"x":1.52,"y":0.60},{"x":1.53,"y":0.44},{"x":1.55,"y":0.35},{"x":1.56,"y":0.55},{"x":1.57,"y":0.48},{"x":1.59,"y":0.63},{"x":1.60,"y":0.39},{"x":1.62,"y":0.50},{"x":1.63,"y":0.42},{"x":1.64,"y":0.58},{"x":1.66,"y":0.31},{"x":1.67,"y":0.45},{"x":1.69,"y":0.52},{"x":1.70,"y":0.37},{"x":1.71,"y":0.61},{"x":1.73,"y":0.43},{"x":1.74,"y":0.28},
  {"x":1.76,"y":0.49},{"x":1.77,"y":0.34},{"x":1.79,"y":0.40},{"x":1.80,"y":0.55},{"x":1.82,"y":0.30},{"x":1.83,"y":0.44},{"x":1.85,"y":0.26},{"x":1.86,"y":0.37},{"x":1.88,"y":0.47},{"x":1.89,"y":0.29},{"x":1.91,"y":0.40},{"x":1.92,"y":0.25},{"x":1.94,"y":0.33},{"x":1.95,"y":0.42},{"x":1.97,"y":0.27},{"x":1.98,"y":0.36},{"x":2.00,"y":0.29},{"x":2.01,"y":0.24},{"x":2.02,"y":0.38},{"x":2.04,"y":0.31},{"x":2.05,"y":0.26},
  {"x":2.07,"y":0.35},{"x":2.08,"y":0.41},{"x":2.10,"y":0.29},{"x":2.11,"y":0.46},{"x":2.13,"y":0.37},{"x":2.14,"y":0.52},{"x":2.16,"y":0.33},{"x":2.17,"y":0.44},{"x":2.19,"y":0.59},{"x":2.20,"y":0.40},{"x":2.22,"y":0.50},{"x":2.23,"y":0.36},{"x":2.24,"y":0.68},{"x":2.25,"y":0.72},{"x":2.27,"y":0.47},{"x":2.28,"y":0.55},{"x":2.30,"y":0.24},{"x":2.31,"y":0.42},{"x":2.32,"y":0.61},{"x":2.33,"y":0.51},{"x":2.35,"y":0.57},{"x":2.36,"y":0.45},{"x":2.38,"y":0.63},{"x":2.39,"y":0.53},
  {"x":2.40,"y":0.59},{"x":2.41,"y":0.48},{"x":2.43,"y":0.55},{"x":2.44,"y":0.60},{"x":2.46,"y":0.44},{"x":2.47,"y":0.57},{"x":2.49,"y":0.51},{"x":2.50,"y":0.40},{"x":2.52,"y":0.54},{"x":2.54,"y":0.47},{"x":2.56,"y":0.58},{"x":2.57,"y":0.38},{"x":2.59,"y":0.50},{"x":2.61,"y":0.45},{"x":2.63,"y":0.28},{"x":2.65,"y":0.42},{"x":2.66,"y":0.36},{"x":2.68,"y":0.30},{"x":2.70,"y":0.44},{"x":2.72,"y":0.29},{"x":2.73,"y":0.37},{"x":2.75,"y":0.35},{"x":2.77,"y":0.31},{"x":2.79,"y":0.34},
  {"x":0.02,"y":0.25},{"x":0.04,"y":0.28},{"x":0.07,"y":0.33},{"x":0.09,"y":0.37},{"x":0.12,"y":0.41},{"x":0.15,"y":0.49},{"x":0.18,"y":0.53},{"x":0.20,"y":0.46},{"x":0.23,"y":0.50},{"x":0.25,"y":0.57},{"x":0.28,"y":0.53},{"x":0.31,"y":0.46},{"x":0.33,"y":0.43},{"x":0.35,"y":0.52},{"x":0.37,"y":0.58},{"x":0.40,"y":0.54},{"x":0.42,"y":0.61},{"x":0.44,"y":0.49},{"x":0.46,"y":0.56},{"x":0.48,"y":0.60},{"x":0.50,"y":0.47},{"x":0.52,"y":0.43},{"x":0.54,"y":0.50},{"x":0.57,"y":0.48},{"x":0.59,"y":0.44},{"x":0.62,"y":0.54},{"x":0.64,"y":0.41},{"x":0.67,"y":0.50},{"x":0.69,"y":0.39},{"x":0.72,"y":0.46},{"x":0.75,"y":0.38},{"x":0.78,"y":0.43},{"x":0.81,"y":0.36},{"x":0.84,"y":0.31},{"x":0.87,"y":0.42},{"x":0.90,"y":0.33},{"x":0.93,"y":0.28},{"x":0.96,"y":0.32},{"x":0.99,"y":0.27},{"x":1.01,"y":0.29},{"x":1.04,"y":0.33},{"x":1.07,"y":0.30},{"x":1.10,"y":0.36},{"x":1.13,"y":0.43},{"x":1.16,"y":0.38},{"x":1.19,"y":0.49},{"x":1.22,"y":0.44},{"x":1.25,"y":0.52},{"x":1.28,"y":0.55},{"x":1.31,"y":0.59},{"x":1.34,"y":0.47},{"x":1.37,"y":0.53},{"x":1.40,"y":0.45},{"x":1.43,"y":0.49},{"x":1.46,"y":0.54},{"x":1.50,"y":0.46},{"x":1.53,"y":0.51},{"x":1.56,"y":0.42},{"x":1.59,"y":0.46},{"x":1.62,"y":0.45},{"x":1.65,"y":0.40},{"x":1.68,"y":0.48},{"x":1.71,"y":0.41},{"x":1.74,"y":0.37},{"x":1.77,"y":0.43},{"x":1.80,"y":0.35},{"x":1.83,"y":0.32},{"x":1.86,"y":0.41},{"x":1.89,"y":0.34},{"x":1.92,"y":0.30},{"x":1.95,"y":0.28},{"x":1.98,"y":0.31},{"x":2.01,"y":0.33},{"x":2.04,"y":0.27},{"x":2.07,"y":0.30},{"x":2.10,"y":0.38},{"x":2.13,"y":0.33},{"x":2.16,"y":0.40},{"x":2.19,"y":0.47},{"x":2.22,"y":0.43},{"x":2.26,"y":0.52},{"x":2.29,"y":0.49},{"x":2.32,"y":0.45},{"x":2.35,"y":0.52},{"x":2.38,"y":0.48},{"x":2.41,"y":0.54},{"x":2.44,"y":0.50},{"x":2.48,"y":0.46},{"x":2.51,"y":0.43},{"x":2.55,"y":0.50},{"x":2.58,"y":0.45},{"x":2.62,"y":0.40},{"x":2.66,"y":0.44},{"x":2.70,"y":0.38},{"x":2.74,"y":0.41},{"x":2.78,"y":0.39}
 ],
 "c": [
  {"x":0.01,"y":0.06},{"x":0.02,"y":0.10},{"x":0.02,"y":0.15},{"x":0.03,"y":0.08},{"x":0.04,"y":0.19},{"x":0.05,"y":0.12},{"x":0.06,"y":0.24},{"x":0.07,"y":0.17},{"x":0.08,"y":0.29},{"x":0.09,"y":0.22},{"x":0.10,"y":0.33},{"x":0.11,"y":0.26},{"x":0.12,"y":0.38},{"x":0.13,"y":0.30},{"x":0.14,"y":0.21},{"x":0.15,"y":0.42},{"x":0.16,"y":0.35},{"x":0.18,"y":0.46},{"x":0.19,"y":0.28},{"x":0.20,"y":0.39},{"x":0.21,"y":0.50},{"x":0.23,"y":0.33},{"x":0.24,"y":0.44},{"x":0.25,"y":0.54},{"x":0.27,"y":0.37},{"x":0.28,"y":0.48},{"x":0.29,"y":0.25},{"x":0.31,"y":0.57},{"x":0.32,"y":0.41},{"x":0.33,"y":0.52},{"x":0.35,"y":0.35},{"x":0.36,"y":0.59},{"x":0.37,"y":0.46},{"x":0.39,"y":0.55},{"x":0.40,"y":0.30},{"x":0.41,"y":0.61},{"x":0.42,"y":0.43},{"x":0.44,"y":0.56},{"x":0.45,"y":0.38},{"x":0.46,"y":0.60},{"x":0.48,"y":0.49},{"x":0.49,"y":0.18},{"x":0.50,"y":0.58},{"x":0.51,"y":0.44},{"x":0.53,"y":0.62},{"x":0.54,"y":0.36},{"x":0.55,"y":0.54},{"x":0.57,"y":0.47},{"x":0.58,"y":0.60},{"x":0.59,"y":0.40},{"x":0.60,"y":0.57},{"x":0.62,"y":0.32},{"x":0.63,"y":0.52},{"x":0.64,"y":0.58},{"x":0.66,"y":0.43},{"x":0.67,"y":0.55},{"x":0.68,"y":0.37},{"x":0.70,"y":0.50},{"x":0.71,"y":0.45},{"x":0.72,"y":0.54},{"x":0.74,"y":0.35},{"x":0.75,"y":0.48},{"x":0.77,"y":0.30},{"x":0.78,"y":0.41},{"x":0.80,"y":0.26},{"x":0.81,"y":0.37},{"x":0.82,"y":0.46},{"x":0.84,"y":0.28},{"x":0.85,"y":0.22},{"x":0.87,"y":0.33},{"x":0.88,"y":0.18},{"x":0.90,"y":0.27},{"x":0.91,"y":0.36},{"x":0.93,"y":0.20},{"x":0.94,"y":0.14},{"x":0.96,"y":0.25},{"x":0.97,"y":0.11},{"x":0.98,"y":0.19},{"x":0.99,"y":0.30},
  {"x":1.00,"y":0.16},{"x":1.01,"y":0.23},{"x":1.02,"y":0.09},{"x":1.03,"y":0.28},{"x":1.04,"y":0.19},{"x":1.05,"y":0.12},{"x":1.06,"y":0.33},{"x":1.07,"y":0.25},{"x":1.08,"y":0.37},{"x":1.09,"y":0.20},{"x":1.10,"y":0.30},{"x":1.11,"y":0.42},{"x":1.12,"y":0.27},{"x":1.13,"y":0.35},{"x":1.14,"y":0.47},{"x":1.15,"y":0.31},{"x":1.17,"y":0.40},{"x":1.18,"y":0.52},{"x":1.19,"y":0.34},{"x":1.20,"y":0.45},{"x":1.22,"y":0.29},{"x":1.23,"y":0.55},{"x":1.24,"y":0.38},{"x":1.26,"y":0.49},{"x":1.27,"y":0.33},{"x":1.28,"y":0.43},{"x":1.30,"y":0.53},{"x":1.31,"y":0.26},{"x":1.32,"y":0.46},{"x":1.34,"y":0.39},{"x":1.35,"y":0.51},{"x":1.36,"y":0.35},{"x":1.38,"y":0.56},{"x":1.39,"y":0.42},{"x":1.40,"y":0.48},{"x":1.42,"y":0.30},{"x":1.43,"y":0.53},{"x":1.44,"y":0.44},{"x":1.46,"y":0.37},{"x":1.47,"y":0.58},{"x":1.48,"y":0.47},{"x":1.50,"y":0.33},{"x":1.51,"y":0.51},{"x":1.52,"y":0.41},{"x":1.54,"y":0.57},{"x":1.55,"y":0.45},{"x":1.56,"y":0.18},{"x":1.58,"y":0.38},{"x":1.59,"y":0.55},{"x":1.60,"y":0.49},{"x":1.62,"y":0.35},{"x":1.63,"y":0.58},{"x":1.64,"y":0.44},{"x":1.66,"y":0.40},{"x":1.67,"y":0.52},{"x":1.68,"y":0.31},{"x":1.70,"y":0.47},{"x":1.71,"y":0.36},{"x":1.72,"y":0.55},{"x":1.74,"y":0.42},{"x":1.75,"y":0.28},{"x":1.77,"y":0.38},{"x":1.78,"y":0.48},{"x":1.80,"y":0.32},{"x":1.81,"y":0.24},{"x":1.83,"y":0.41},{"x":1.84,"y":0.29},{"x":1.86,"y":0.20},{"x":1.87,"y":0.35},{"x":1.89,"y":0.25},{"x":1.90,"y":0.14},{"x":1.92,"y":0.30},{"x":1.93,"y":0.19},{"x":1.94,"y":0.09},{"x":1.96,"y":0.23},{"x":1.97,"y":0.12},{"x":1.98,"y":0.27},{"x":1.99,"y":0.07},
  {"x":2.00,"y":0.18},{"x":2.01,"y":0.25},{"x":2.02,"y":0.14},{"x":2.03,"y":0.21},{"x":2.04,"y":0.29},{"x":2.05,"y":0.17},{"x":2.06,"y":0.33},{"x":2.07,"y":0.24},{"x":2.08,"y":0.30},{"x":2.10,"y":0.37},{"x":2.11,"y":0.26},{"x":2.12,"y":0.42},{"x":2.13,"y":0.33},{"x":2.15,"y":0.46},{"x":2.16,"y":0.29},{"x":2.17,"y":0.39},{"x":2.19,"y":0.50},{"x":2.20,"y":0.35},{"x":2.21,"y":0.44},{"x":2.23,"y":0.54},{"x":2.24,"y":0.31},{"x":2.25,"y":0.62},{"x":2.26,"y":0.47},{"x":2.28,"y":0.38},{"x":2.29,"y":0.53},{"x":2.30,"y":0.42},{"x":2.32,"y":0.57},{"x":2.33,"y":0.35},{"x":2.34,"y":0.49},{"x":2.36,"y":0.44},{"x":2.37,"y":0.58},{"x":2.38,"y":0.27},{"x":2.40,"y":0.52},{"x":2.41,"y":0.40},{"x":2.42,"y":0.56},{"x":2.44,"y":0.46},{"x":2.45,"y":0.34},{"x":2.46,"y":0.59},{"x":2.48,"y":0.43},{"x":2.49,"y":0.51},{"x":2.50,"y":0.37},{"x":2.52,"y":0.55},{"x":2.53,"y":0.48},{"x":2.54,"y":0.22},{"x":2.56,"y":0.41},{"x":2.57,"y":0.57},{"x":2.58,"y":0.45},{"x":2.60,"y":0.32},{"x":2.61,"y":0.52},{"x":2.62,"y":0.39},{"x":2.64,"y":0.48},{"x":2.65,"y":0.56},{"x":2.67,"y":0.35},{"x":2.68,"y":0.44},{"x":2.69,"y":0.28},{"x":2.71,"y":0.50},{"x":2.72,"y":0.38},{"x":2.74,"y":0.45},{"x":2.75,"y":0.31},{"x":2.77,"y":0.41},{"x":2.78,"y":0.24},{"x":2.80,"y":0.35},{"x":2.81,"y":0.47},{"x":2.83,"y":0.27},{"x":2.84,"y":0.38},{"x":2.86,"y":0.21},{"x":2.87,"y":0.32},{"x":2.89,"y":0.16},{"x":2.90,"y":0.28},{"x":2.92,"y":0.23},{"x":2.93,"y":0.12},{"x":2.95,"y":0.26},{"x":2.96,"y":0.18},{"x":2.97,"y":0.10},{"x":2.99,"y":0.22},
  {"x":3.00,"y":0.07},{"x":3.01,"y":0.19},{"x":3.02,"y":0.27},{"x":3.03,"y":0.13},{"x":3.04,"y":0.22},{"x":3.06,"y":0.30},{"x":3.07,"y":0.17},{"x":3.08,"y":0.26},{"x":3.10,"y":0.34},{"x":3.11,"y":0.23},{"x":3.12,"y":0.39},{"x":3.14,"y":0.29},{"x":3.15,"y":0.44},{"x":3.16,"y":0.33},{"x":3.18,"y":0.25},{"x":3.19,"y":0.48},{"x":3.20,"y":0.37},{"x":3.22,"y":0.42},{"x":3.23,"y":0.31},{"x":3.25,"y":0.51},{"x":3.26,"y":0.39},{"x":3.27,"y":0.45},{"x":3.29,"y":0.55},{"x":3.30,"y":0.34},{"x":3.31,"y":0.47},{"x":3.33,"y":0.41},{"x":3.34,"y":0.53},{"x":3.35,"y":0.28},{"x":3.37,"y":0.44},{"x":3.38,"y":0.62},{"x":3.39,"y":0.38},{"x":3.41,"y":0.49},{"x":3.42,"y":0.57},{"x":3.44,"y":0.42},{"x":3.45,"y":0.35},{"x":3.47,"y":0.52},{"x":3.48,"y":0.45},{"x":3.50,"y":0.39},{"x":3.51,"y":0.55},{"x":3.53,"y":0.43},{"x":3.54,"y":0.31},{"x":3.56,"y":0.48},{"x":3.57,"y":0.40},{"x":3.58,"y":0.60},{"x":3.60,"y":0.36},{"x":3.61,"y":0.46},{"x":3.63,"y":0.51},{"x":3.64,"y":0.33},{"x":3.66,"y":0.42},{"x":3.67,"y":0.26},{"x":3.69,"y":0.47},{"x":3.70,"y":0.38},{"x":3.72,"y":0.44},{"x":3.73,"y":0.30},{"x":3.75,"y":0.40},{"x":3.76,"y":0.23},{"x":3.78,"y":0.35},{"x":3.79,"y":0.45},{"x":3.81,"y":0.28},{"x":3.82,"y":0.18},{"x":3.84,"y":0.33},{"x":3.85,"y":0.24},{"x":3.87,"y":0.15},{"x":3.88,"y":0.29},{"x":3.90,"y":0.21},{"x":3.92,"y":0.26},{"x":3.93,"y":0.13},{"x":3.95,"y":0.22},{"x":3.97,"y":0.18},{"x":3.99,"y":0.25},
  {"x":4.00,"y":0.20},{"x":4.02,"y":0.15},{"x":4.03,"y":0.27},{"x":4.05,"y":0.22},{"x":4.07,"y":0.31},{"x":4.09,"y":0.18},{"x":4.11,"y":0.28},{"x":4.13,"y":0.35},{"x":4.15,"y":0.24},{"x":4.17,"y":0.40},{"x":4.19,"y":0.32},{"x":4.22,"y":0.44},{"x":4.24,"y":0.36},{"x":4.26,"y":0.30},{"x":4.29,"y":0.41},{"x":4.31,"y":0.37},{"x":4.33,"y":0.45},{"x":4.36,"y":0.33},{"x":4.38,"y":0.42},{"x":4.41,"y":0.38},{"x":4.43,"y":0.28},{"x":4.45,"y":0.44},{"x":4.48,"y":0.39},{"x":4.50,"y":0.35},{"x":4.52,"y":0.43},{"x":4.55,"y":0.31},{"x":4.57,"y":0.40},{"x":4.59,"y":0.46},{"x":4.62,"y":0.36},{"x":4.64,"y":0.27},{"x":4.66,"y":0.41},{"x":4.69,"y":0.34},{"x":4.71,"y":0.43},{"x":4.73,"y":0.47},{"x":4.75,"y":0.53},{"x":4.76,"y":0.09},{"x":4.78,"y":0.30},{"x":4.80,"y":0.38},{"x":4.82,"y":0.08},{"x":4.84,"y":0.26},{"x":4.86,"y":0.33},{"x":4.88,"y":0.21},{"x":4.90,"y":0.28},{"x":4.92,"y":0.17},{"x":4.94,"y":0.24},{"x":4.96,"y":0.20},{"x":4.98,"y":0.10},{"x":4.99,"y":0.27},
  {"x":5.00,"y":0.08},{"x":5.01,"y":0.22},{"x":5.02,"y":0.09},{"x":5.03,"y":0.17},{"x":5.05,"y":0.26},{"x":5.07,"y":0.20},{"x":5.09,"y":0.30},{"x":5.11,"y":0.24},{"x":5.13,"y":0.34},{"x":5.15,"y":0.13},{"x":5.17,"y":0.38},{"x":5.19,"y":0.29},{"x":5.22,"y":0.42},{"x":5.24,"y":0.35},{"x":5.26,"y":0.46},{"x":5.28,"y":0.31},{"x":5.30,"y":0.40},{"x":5.33,"y":0.37},{"x":5.35,"y":0.44},{"x":5.37,"y":0.33},{"x":5.40,"y":0.41},{"x":5.42,"y":0.36},{"x":5.44,"y":0.47},{"x":5.47,"y":0.39},{"x":5.49,"y":0.43},{"x":5.51,"y":0.34},{"x":5.54,"y":0.45},{"x":5.56,"y":0.40},{"x":5.58,"y":0.55},{"x":5.60,"y":0.52},{"x":5.62,"y":0.42},{"x":5.64,"y":0.50},{"x":5.66,"y":0.37},{"x":5.69,"y":0.46},{"x":5.71,"y":0.32},{"x":5.74,"y":0.41},{"x":5.76,"y":0.38},{"x":5.79,"y":0.35},{"x":5.81,"y":0.44},{"x":5.83,"y":0.60},{"x":5.85,"y":0.29},{"x":5.88,"y":0.36},{"x":5.90,"y":0.25},{"x":5.93,"y":0.31},{"x":5.95,"y":0.22},{"x":5.98,"y":0.28},
  {"x":6.00,"y":0.20},{"x":6.02,"y":0.25},{"x":6.04,"y":0.18},{"x":6.06,"y":0.29},{"x":6.08,"y":0.23},{"x":6.11,"y":0.33},{"x":6.13,"y":0.27},{"x":6.16,"y":0.37},{"x":6.18,"y":0.31},{"x":6.21,"y":0.42},{"x":6.24,"y":0.35},{"x":6.27,"y":0.45},{"x":6.29,"y":0.39},{"x":6.32,"y":0.48},{"x":6.35,"y":0.43},{"x":6.38,"y":0.50},{"x":6.41,"y":0.46},{"x":6.44,"y":0.52},{"x":6.46,"y":0.55},{"x":6.48,"y":0.44},{"x":6.50,"y":0.57},{"x":6.52,"y":0.53},{"x":6.54,"y":0.56},{"x":6.57,"y":0.50},{"x":6.59,"y":0.58},{"x":6.62,"y":0.45},{"x":6.65,"y":0.52},{"x":6.69,"y":0.41},{"x":6.72,"y":0.49},{"x":6.76,"y":0.38},{"x":6.79,"y":0.26},{"x":6.82,"y":0.32},{"x":6.85,"y":0.29},{"x":6.87,"y":0.35},{"x":6.90,"y":0.27},
  {"x":0.03,"y":0.13},{"x":0.05,"y":0.20},{"x":0.07,"y":0.27},{"x":0.10,"y":0.24},{"x":0.13,"y":0.35},{"x":0.17,"y":0.31},{"x":0.20,"y":0.44},{"x":0.23,"y":0.40},{"x":0.26,"y":0.47},{"x":0.30,"y":0.43},{"x":0.34,"y":0.50},{"x":0.38,"y":0.40},{"x":0.43,"y":0.52},{"x":0.47,"y":0.45},{"x":0.50,"y":0.36},{"x":0.52,"y":0.59},{"x":0.56,"y":0.50},{"x":0.61,"y":0.45},{"x":0.65,"y":0.39},{"x":0.69,"y":0.43},{"x":0.73,"y":0.40},{"x":0.76,"y":0.36},{"x":0.79,"y":0.33},{"x":0.83,"y":0.39},{"x":0.86,"y":0.30},{"x":0.89,"y":0.24},{"x":0.92,"y":0.29},{"x":0.95,"y":0.17},
  {"x":1.01,"y":0.14},{"x":1.04,"y":0.24},{"x":1.07,"y":0.18},{"x":1.10,"y":0.36},{"x":1.13,"y":0.39},{"x":1.16,"y":0.44},{"x":1.21,"y":0.37},{"x":1.25,"y":0.42},{"x":1.29,"y":0.48},{"x":1.33,"y":0.36},{"x":1.37,"y":0.45},{"x":1.41,"y":0.51},{"x":1.45,"y":0.40},{"x":1.49,"y":0.54},{"x":1.53,"y":0.37},{"x":1.57,"y":0.43},{"x":1.61,"y":0.52},{"x":1.65,"y":0.46},{"x":1.69,"y":0.42},{"x":1.73,"y":0.39},{"x":1.76,"y":0.45},{"x":1.79,"y":0.36},{"x":1.82,"y":0.33},{"x":1.85,"y":0.27},{"x":1.88,"y":0.31},{"x":1.91,"y":0.22},{"x":1.95,"y":0.16},{"x":1.98,"y":0.21},
  {"x":2.02,"y":0.27},{"x":2.05,"y":0.22},{"x":2.09,"y":0.34},{"x":2.14,"y":0.38},{"x":2.18,"y":0.43},{"x":2.22,"y":0.40},{"x":2.27,"y":0.50},{"x":2.31,"y":0.45},{"x":2.35,"y":0.40},{"x":2.39,"y":0.49},{"x":2.43,"y":0.43},{"x":2.47,"y":0.53},{"x":2.51,"y":0.46},{"x":2.55,"y":0.39},{"x":2.59,"y":0.49},{"x":2.63,"y":0.43},{"x":2.66,"y":0.51},{"x":2.70,"y":0.41},{"x":2.73,"y":0.47},{"x":2.76,"y":0.37},{"x":2.79,"y":0.32},{"x":2.82,"y":0.40},{"x":2.85,"y":0.30},{"x":2.88,"y":0.25},{"x":2.91,"y":0.33},{"x":2.94,"y":0.19},{"x":2.98,"y":0.14},
  {"x":3.02,"y":0.11},{"x":3.05,"y":0.25},{"x":3.09,"y":0.21},{"x":3.13,"y":0.33},{"x":3.17,"y":0.40},{"x":3.21,"y":0.35},{"x":3.24,"y":0.43},{"x":3.28,"y":0.49},{"x":3.32,"y":0.37},{"x":3.36,"y":0.50},{"x":3.40,"y":0.43},{"x":3.43,"y":0.47},{"x":3.46,"y":0.40},{"x":3.49,"y":0.50},{"x":3.52,"y":0.37},{"x":3.55,"y":0.44},{"x":3.59,"y":0.41},{"x":3.62,"y":0.38},{"x":3.65,"y":0.48},{"x":3.68,"y":0.35},{"x":3.71,"y":0.41},{"x":3.74,"y":0.36},{"x":3.77,"y":0.30},{"x":3.80,"y":0.38},{"x":3.83,"y":0.27},{"x":3.86,"y":0.21},{"x":3.89,"y":0.18},{"x":3.94,"y":0.28},{"x":3.98,"y":0.16},
  {"x":4.01,"y":0.24},{"x":4.04,"y":0.19},{"x":4.08,"y":0.26},{"x":4.12,"y":0.22},{"x":4.16,"y":0.33},{"x":4.20,"y":0.37},{"x":4.25,"y":0.40},{"x":4.28,"y":0.34},{"x":4.32,"y":0.40},{"x":4.35,"y":0.43},{"x":4.40,"y":0.41},{"x":4.44,"y":0.36},{"x":4.47,"y":0.41},{"x":4.51,"y":0.38},{"x":4.54,"y":0.40},{"x":4.58,"y":0.37},{"x":4.61,"y":0.42},{"x":4.65,"y":0.39},{"x":4.68,"y":0.44},{"x":4.72,"y":0.39},{"x":4.77,"y":0.35},{"x":4.81,"y":0.33},{"x":4.85,"y":0.29},{"x":4.89,"y":0.24},{"x":4.93,"y":0.22},{"x":4.97,"y":0.26},
  {"x":5.02,"y":0.19},{"x":5.04,"y":0.24},{"x":5.08,"y":0.23},{"x":5.12,"y":0.28},{"x":5.16,"y":0.32},{"x":5.20,"y":0.36},{"x":5.25,"y":0.39},{"x":5.29,"y":0.43},{"x":5.32,"y":0.40},{"x":5.36,"y":0.41},{"x":5.41,"y":0.44},{"x":5.45,"y":0.42},{"x":5.50,"y":0.38},{"x":5.53,"y":0.42},{"x":5.57,"y":0.44},{"x":5.61,"y":0.47},{"x":5.65,"y":0.44},{"x":5.70,"y":0.40},{"x":5.73,"y":0.36},{"x":5.78,"y":0.41},{"x":5.82,"y":0.31},{"x":5.87,"y":0.27},{"x":5.91,"y":0.30},{"x":5.96,"y":0.24},
  {"x":6.03,"y":0.22},{"x":6.07,"y":0.27},{"x":6.10,"y":0.30},{"x":6.14,"y":0.35},{"x":6.19,"y":0.40},{"x":6.23,"y":0.38},{"x":6.28,"y":0.42},{"x":6.33,"y":0.46},{"x":6.37,"y":0.41},{"x":6.42,"y":0.49},{"x":6.47,"y":0.51},{"x":6.51,"y":0.48},{"x":6.55,"y":0.54},{"x":6.60,"y":0.51},{"x":6.64,"y":0.47},{"x":6.68,"y":0.46},{"x":6.74,"y":0.43},{"x":6.80,"y":0.38},{"x":6.84,"y":0.33},{"x":6.88,"y":0.30}
 ]
}
}
